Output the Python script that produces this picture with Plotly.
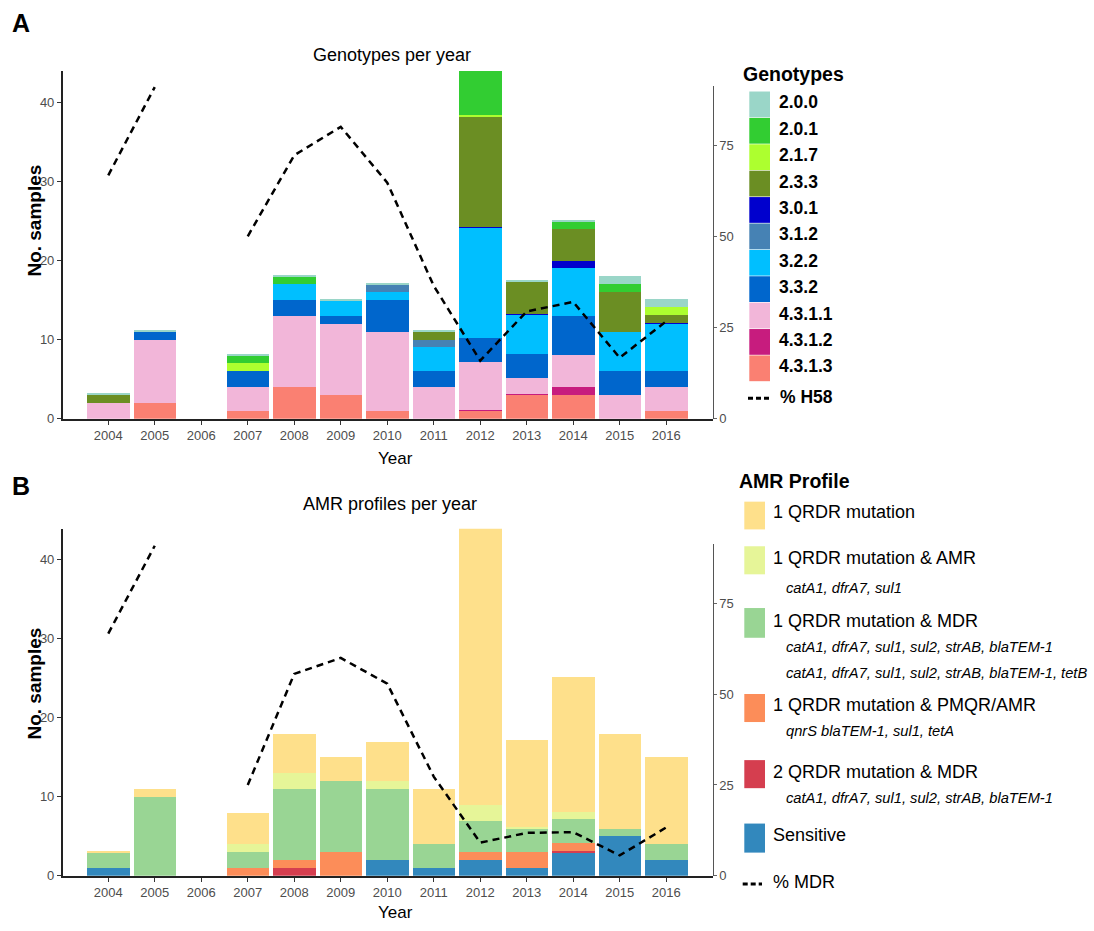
import plotly.graph_objects as go

W, H = 1094, 931

years = [2004, 2005, 2006, 2007, 2008, 2009, 2010, 2011, 2012, 2013, 2014, 2015, 2016]
year_labels = [str(y) for y in years]

# ---- Panel A: genotype counts per year (thin values = hairline segments seen in the picture)
genotypes = ["4.3.1.3", "4.3.1.2", "4.3.1.1", "3.3.2", "3.2.2", "3.1.2",
             "3.0.1", "2.3.3", "2.1.7", "2.0.1", "2.0.0"]
g_4313 = [0, 2, 0, 1, 4, 3, 1, 0, 1, 3, 3, 0, 1]
g_4312 = [0, 0, 0, 0, 0, 0, 0, 0, 0.15, 0.15, 1, 0, 0]
g_4311 = [2, 8, 0, 3, 9, 9, 10, 4, 6, 2, 4, 3, 3]
g_332 = [0, 1, 0, 2, 2, 1, 4, 2, 3, 3, 5, 3, 2]
g_322 = [0, 0, 0, 0, 2, 2, 1, 3, 14, 5, 6, 5, 6]
g_312 = [0, 0, 0, 0, 0, 0, 1, 1, 0, 0, 0, 0, 0]
g_301 = [0, 0, 0, 0, 0, 0, 0, 0, 0.15, 0.15, 1, 0, 0.15]
g_233 = [1, 0, 0, 0, 0, 0, 0, 1, 14, 4, 4, 5, 1]
g_217 = [0, 0, 0, 1, 0, 0, 0, 0, 0.15, 0, 0, 0, 1]
g_201 = [0, 0, 0, 1, 1, 0, 0, 0, 6, 0, 1, 1, 0]
g_200 = [0.12, 0.12, 0, 0.12, 0.12, 0.12, 0.12, 0.12, 0.12, 0.12, 0.12, 1, 1]
genotype_values = [g_4313, g_4312, g_4311, g_332, g_322, g_312, g_301, g_233, g_217, g_201, g_200]
genotype_colors = ["#FA8072", "#C71C7E", "#F2B6D9", "#0066CC", "#00BFFF", "#4682B4",
                   "#0000CD", "#6B8E23", "#ADFF2F", "#32CD32", "#9AD6C8"]
pct_h58 = [66.7, 90.9, None, 50.0, 72.2, 80.0, 64.7, 36.4, 15.9, 29.4, 32.0, 16.7, 26.7]

# ---- Panel B: AMR profile counts per year
amr_profiles = ["Sensitive", "2 QRDR mutation & MDR", "1 QRDR mutation & PMQR/AMR",
                "1 QRDR mutation & MDR", "1 QRDR mutation & AMR", "1 QRDR mutation"]
a_sens = [1, 0, 0, 0, 0, 0, 2, 1, 2, 1, 3, 5, 2]
a_2mdr = [0, 0, 0, 0, 1, 0, 0, 0, 0, 0, 0.15, 0, 0]
a_pmqr = [0, 0, 0, 1, 1, 3, 0, 0, 1, 2, 1, 0, 0]
a_1mdr = [2, 10, 0, 2, 9, 9, 9, 3, 4, 3, 3, 1, 2]
a_1amr = [0, 0, 0, 1, 2, 0, 1, 0, 2, 0.15, 1, 0, 0]
a_1q = [0.15, 1, 0, 4, 5, 3, 5, 7, 35, 11, 17, 12, 11]
amr_values = [a_sens, a_2mdr, a_pmqr, a_1mdr, a_1amr, a_1q]
amr_colors = ["#3288BD", "#D53E4F", "#FC8D59", "#99D594", "#E6F598", "#FEE08B"]
amr_genes = {
    "1 QRDR mutation & AMR": ["catA1, dfrA7, sul1"],
    "1 QRDR mutation & MDR": ["catA1, dfrA7, sul1, sul2, strAB, blaTEM-1",
                              "catA1, dfrA7, sul1, sul2, strAB, blaTEM-1, tetB"],
    "1 QRDR mutation & PMQR/AMR": ["qnrS blaTEM-1, sul1, tetA"],
    "2 QRDR mutation & MDR": ["catA1, dfrA7, sul1, sul2, strAB, blaTEM-1"],
}
pct_mdr = [66.7, 90.9, None, 25.0, 55.6, 60.0, 52.9, 27.3, 9.1, 11.8, 12.0, 5.6, 13.3]


def px(x):
    return x / W


def py(y):
    return 1 - y / H


SANS = "Liberation Sans, Arial, sans-serif"
TICKC = "#4D4D4D"

fig = go.Figure()

for name, vals, col in zip(genotypes, genotype_values, genotype_colors):
    fig.add_trace(go.Bar(x=years, y=vals, name=name, marker=dict(color=col, line=dict(width=0)),
                         width=0.92, xaxis="x", yaxis="y", showlegend=False))
fig.add_trace(go.Scatter(x=years, y=pct_h58, mode="lines", name="% H58", connectgaps=False,
                         line=dict(color="black", width=2.5, dash="7px,5px"),
                         xaxis="x", yaxis="y2", showlegend=False))

for name, vals, col in zip(amr_profiles, amr_values, amr_colors):
    fig.add_trace(go.Bar(x=years, y=vals, name=name, marker=dict(color=col, line=dict(width=0)),
                         width=0.92, xaxis="x2", yaxis="y3", showlegend=False))
fig.add_trace(go.Scatter(x=years, y=pct_mdr, mode="lines", name="% MDR", connectgaps=False,
                         line=dict(color="black", width=2.5, dash="7px,5px"),
                         xaxis="x2", yaxis="y4", showlegend=False))

xdom = [px(62.7), px(712.7)]
xcommon = dict(domain=xdom, range=[2003.02, 2017.0], tickmode="array", tickvals=years,
               ticktext=year_labels, ticks="outside", ticklen=4, tickwidth=1, tickcolor="#333333",
               showline=True, linecolor="#222222", linewidth=2, showgrid=False, zeroline=False,
               tickfont=dict(family=SANS, size=13, color=TICKC))
ycommon = dict(ticks="outside", ticklen=4, tickwidth=1, tickcolor="#333333", showline=True,
               linecolor="#222222", linewidth=1.5, showgrid=False, zeroline=False,
               tickfont=dict(family=SANS, size=13, color=TICKC))
y2common = dict(ticks="outside", ticklen=3, tickwidth=1, tickcolor="#666666", showline=True,
                linecolor="#555555", linewidth=1, showgrid=False, zeroline=False, side="right",
                tickvals=[0, 25, 50, 75], tickfont=dict(family=SANS, size=13, color=TICKC))

fig.update_layout(
    width=W, height=H, margin=dict(l=0, r=0, t=0, b=0), barmode="stack", bargap=0,
    plot_bgcolor="rgba(0,0,0,0)", paper_bgcolor="white", showlegend=False,
    xaxis=dict(anchor="y", **xcommon),
    yaxis=dict(domain=[py(422.3), py(71.7)], range=[0, 44.0], tickvals=[0, 10, 20, 30, 40],
               anchor="x", **ycommon),
    yaxis2=dict(domain=[py(422.3), py(86.7)], range=[0, 91.2], anchor="x", **y2common),
    xaxis2=dict(anchor="y3", **xcommon),
    yaxis3=dict(domain=[py(883.3), py(533.3)], range=[0, 43.9], tickvals=[0, 10, 20, 30, 40],
                anchor="x2", **ycommon),
    yaxis4=dict(domain=[py(883.3), py(548.3)], range=[0, 91.5], anchor="x2", **y2common),
)

ann = []
shapes = []


def text(x, y, s, size, family=SANS, bold=False, anchor="left", angle=0, color="black"):
    ann.append(dict(x=px(x), y=py(y), xref="paper", yref="paper", text=("<b>%s</b>" % s) if bold else s,
                    showarrow=False, xanchor=anchor, yanchor="middle", textangle=angle,
                    font=dict(family=family, size=size, color=color)))


# panel letters, titles, axis titles
text(10, 23, "A", 25, bold=True)
text(10, 490, "B", 25, bold=True)
text(392, 55, "Genotypes per year", 18, anchor="center")
text(390, 508, "AMR profiles per year", 18, anchor="center")
text(395, 462, "Year", 17, anchor="center")
text(395, 920, "Year", 17, anchor="center")
text(34.5, 223, "No. samples", 19, bold=True, anchor="center", angle=-90)
text(34.5, 690, "No. samples", 19, bold=True, anchor="center", angle=-90)

# legend A
text(741, 75, "Genotypes", 19.5, bold=True)
legend_a_names = list(reversed(genotypes))
legend_a_colors = list(reversed(genotype_colors))
for i, (nm, col) in enumerate(zip(legend_a_names, legend_a_colors)):
    cy = 105.3 + i * 26.62
    shapes.append(dict(type="rect", xref="paper", yref="paper", x0=px(749.3), x1=px(770),
                       y0=py(cy + 13), y1=py(cy - 13), fillcolor=col, line=dict(width=0)))
    text(777, cy - 2, nm, 17.5, bold=True)
shapes.append(dict(type="line", xref="paper", yref="paper", x0=px(748), x1=px(769), y0=py(401.7),
                   y1=py(401.7), line=dict(color="black", width=3, dash="5px,3px")))
text(778, 400, "% H58", 17.5, bold=True)

# legend B
text(737, 485, "AMR Profile", 19.5, bold=True)
legend_b_names = list(reversed(amr_profiles))
legend_b_colors = list(reversed(amr_colors))
sq_top = [506, 551, 613.3, 700, 766.7, 830.7]
sq_bot = [534, 579.3, 643.3, 728.3, 795, 860]
lab_y = [516.7, 562.7, 626, 710.7, 778.3, 842.7]
for nm, col, t, b, ly in zip(legend_b_names, legend_b_colors, sq_top, sq_bot, lab_y):
    shapes.append(dict(type="rect", xref="paper", yref="paper", x0=px(744.3), x1=px(765),
                       y0=py(b), y1=py(t), fillcolor=col, line=dict(width=0)))
    text(771, ly, nm, 18)
    for j, g in enumerate(amr_genes.get(nm, [])):
        gy = ly + (30.6 if nm == "1 QRDR mutation & AMR" else 27) + j * 25.8
        text(784, gy, "<i>%s</i>" % g, 14.7)
shapes.append(dict(type="line", xref="paper", yref="paper", x0=px(742.7), x1=px(762), y0=py(891.7),
                   y1=py(891.7), line=dict(color="black", width=3, dash="5px,3px")))
text(771, 890, "% MDR", 18)

fig.update_layout(annotations=ann, shapes=shapes)
fig.write_html("out.html", config={"displayModeBar": False},
               post_script="document.body.style.margin='0';")
